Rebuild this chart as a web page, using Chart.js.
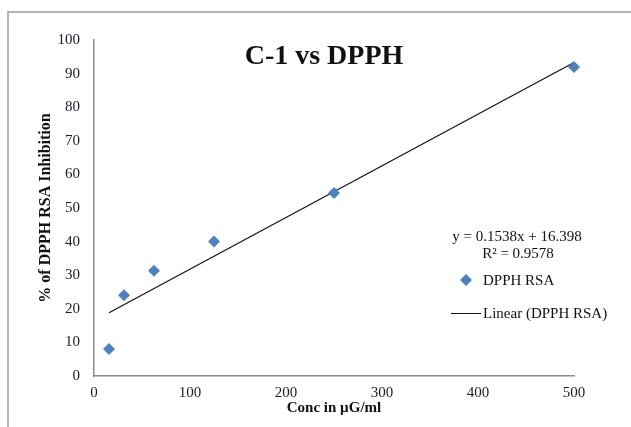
<!DOCTYPE html>
<html>
<head>
<meta charset="utf-8">
<script src="https://cdn.jsdelivr.net/npm/chart.js@4/dist/chart.umd.min.js"></script>
<style>
  html, body { margin: 0; padding: 0; background: #fff; }
  #wrap { position: relative; width: 631px; height: 427px; overflow: hidden; }
  #frame { position: absolute; left: 7px; top: 11px; width: 640px; height: 440px; border: 2px solid #b4b4b4; box-sizing: border-box; }
  canvas { position: absolute; left: 0; top: 0; }
</style>
</head>
<body>
<div id="wrap">
  <div id="frame"></div>
  <canvas id="chart" width="631" height="427"></canvas>
</div>
<script>
// concentration (µG/ml) and % inhibition
const concValues = [15.625, 31.25, 62.5, 125, 250, 500];
const inhibitionValues = [8, 24, 31.3, 40, 54.5, 92];
// linear trendline end points
const trendX = [15.625, 500];
const trendY = [18.8, 93.3];

const chartTitle = 'C-1 vs DPPH';
const equationText = 'y = 0.1538x + 16.398';
const rSquaredText = 'R² = 0.9578';
const seriesName = 'DPPH RSA';
const trendName = 'Linear (DPPH RSA)';

const serif = "'Liberation Serif', 'Times New Roman', serif";
const markerColor = '#4F81BD';

// draws the title, equation and legend inside the plot like Excel does
const overlayPlugin = {
  id: 'overlay',
  afterDraw(chart) {
    const ctx = chart.ctx;
    const area = chart.chartArea;
    ctx.save();
    ctx.fillStyle = '#111';
    ctx.textBaseline = 'middle';

    ctx.font = 'bold 28px ' + serif;
    ctx.textAlign = 'center';
    ctx.fillText(chartTitle, (area.left + area.right) / 2 - 10, 57);

    ctx.font = '15px ' + serif;
    ctx.fillText(equationText, 517, 237);
    ctx.fillText(rSquaredText, 518, 254);

    // legend: marker entry
    ctx.textAlign = 'left';
    ctx.fillStyle = markerColor;
    ctx.beginPath();
    ctx.moveTo(466, 274);
    ctx.lineTo(472, 280);
    ctx.lineTo(466, 286);
    ctx.lineTo(460, 280);
    ctx.closePath();
    ctx.fill();
    ctx.fillStyle = '#111';
    ctx.fillText(seriesName, 483, 281);

    // legend: trendline entry
    ctx.strokeStyle = '#111';
    ctx.lineWidth = 1;
    ctx.beginPath();
    ctx.moveTo(451, 313.5);
    ctx.lineTo(481, 313.5);
    ctx.stroke();
    ctx.fillText(trendName, 483, 314);
    ctx.restore();
  }
};

const ctx = document.getElementById('chart').getContext('2d');
new Chart(ctx, {
  type: 'scatter',
  data: {
    datasets: [
      {
        label: seriesName,
        data: concValues.map((x, i) => ({ x: x, y: inhibitionValues[i] })),
        pointStyle: 'rectRot',
        pointRadius: 6,
        pointBackgroundColor: markerColor,
        pointBorderColor: markerColor,
        pointBorderWidth: 0,
        showLine: false,
        clip: false,
        order: 1
      },
      {
        label: trendName,
        data: trendX.map((x, i) => ({ x: x, y: trendY[i] })),
        showLine: true,
        borderColor: '#111',
        borderWidth: 1.2,
        pointRadius: 0,
        clip: false,
        order: 2
      }
    ]
  },
  options: {
    responsive: false,
    animation: false,
    layout: { padding: { left: 0, top: 40, right: 57, bottom: 0 } },
    plugins: {
      legend: { display: false },
      tooltip: { enabled: false }
    },
    scales: {
      x: {
        type: 'linear',
        min: 0,
        max: 500,
        afterFit(scale) { scale.height = 51; },
        grid: { display: false, drawTicks: false },
        border: { display: true, color: '#8c8c8c', width: 1.5 },
        ticks: {
          stepSize: 100,
          padding: 8,
          color: '#1a1a2a',
          font: { family: serif, size: 15 }
        },
        title: {
          display: true,
          text: 'Conc in µG/ml',
          color: '#111',
          font: { family: serif, size: 15, weight: 'bold' },
          padding: { top: 0, bottom: 10 }
        }
      },
      y: {
        min: 0,
        max: 100,
        afterFit(scale) { scale.width = 94; },
        grid: { display: false, drawTicks: false },
        border: { display: true, color: '#8c8c8c', width: 1.5 },
        ticks: {
          stepSize: 10,
          padding: 14,
          color: '#1a1a2a',
          font: { family: serif, size: 15 }
        },
        title: {
          display: true,
          text: '% of DPPH RSA Inhibition',
          color: '#111',
          font: { family: serif, size: 16, weight: 'bold' },
          padding: { top: 36, bottom: 0 }
        }
      }
    }
  },
  plugins: [overlayPlugin]
});
</script>
</body>
</html>
